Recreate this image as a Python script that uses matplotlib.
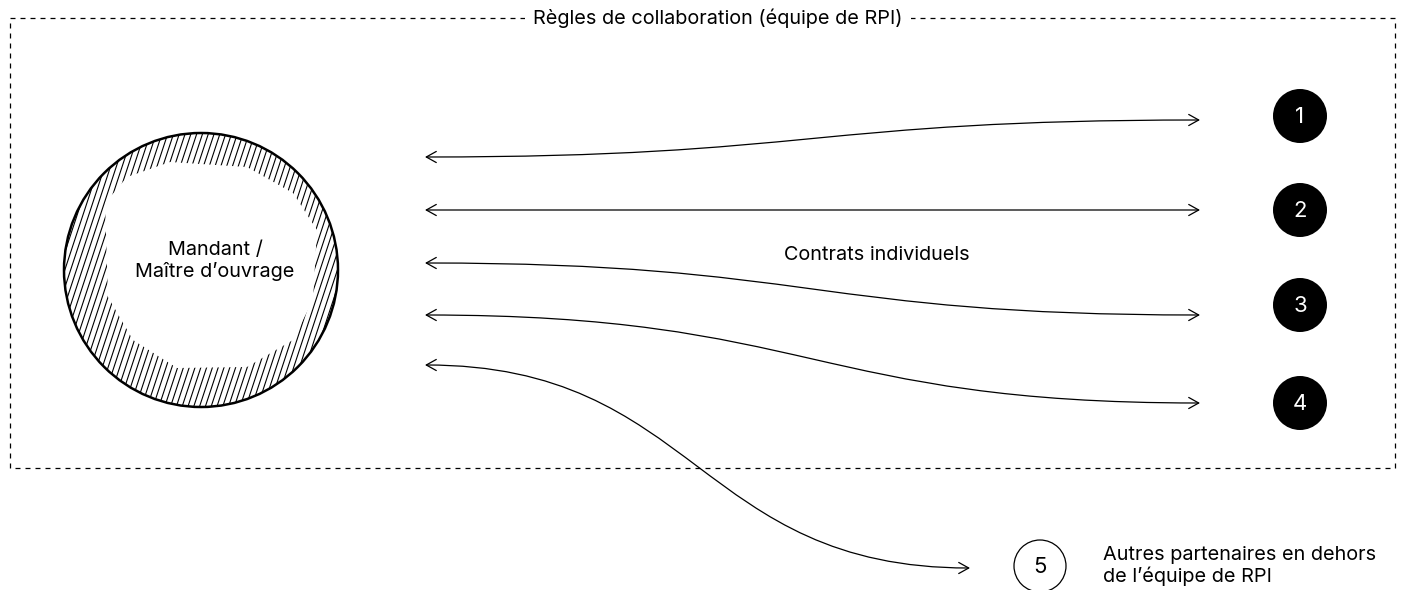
import numpy as np
import matplotlib
matplotlib.use('Agg')
import matplotlib.pyplot as plt
from matplotlib.patches import Circle, FancyArrowPatch, Rectangle, PathPatch
from matplotlib.path import Path

plt.rcParams['font.family'] = ['Inter', 'DejaVu Sans']

# ==================== 数据 ====================
title = 'Règles de collaboration (équipe de RPI)'
center_label = 'Mandant /\nMaître d\u2019ouvrage'
middle_label = 'Contrats individuels'
outside_label = 'Autres partenaires en dehors\nde l\u2019équipe de RPI'

partner_ids = ['1', '2', '3', '4']
partner_y = [116, 210, 305, 403]

# arrows: (x_left, y_left, x_right, y_right)
arrow_left_x = [425, 425, 425, 425, 425]
arrow_left_y = [157, 210, 263, 315, 365]
arrow_right_x = [1200, 1200, 1200, 1200, 970]
arrow_right_y = [120, 210, 315, 403, 568]

# inner white shape of the hatched ring (pixel coords)
inner_x = [105, 127, 170, 247, 293, 317, 313, 293, 247, 177, 133, 108]
inner_y = [203, 177, 162, 167, 193, 230, 300, 340, 367, 368, 340, 297]

FS = 14.3

W, H = 1405, 590
fig = plt.figure(figsize=(W / 100, H / 100), dpi=100)
ax = fig.add_axes([0, 0, 1, 1])
ax.set_xlim(0, W)
ax.set_ylim(H, 0)
ax.axis('off')

LW = 0.9

# dashed frame
ax.add_patch(Rectangle((10, 18), 1385, 450, fill=False, lw=LW,
                       ls=(0, (4, 4)), ec='black'))
ax.text(718, 18, title, ha='center', va='center', fontsize=FS,
        bbox=dict(fc='white', ec='none', pad=6))

# hatched ring
cx, cy, r = 201, 270, 137
ring_outer = Path.circle((cx, cy), r)
inner = np.column_stack([inner_x, inner_y])
inner = np.vstack([inner[::-1], inner[-1:]])
verts = np.vstack([ring_outer.vertices, inner])
codes = np.concatenate([ring_outer.codes,
                        [Path.MOVETO] + [Path.LINETO] * (len(inner) - 2) + [Path.CLOSEPOLY]])
ring_path = Path(verts, codes)
clip = PathPatch(ring_path, fc='none', ec='none', transform=ax.transData)
ax.add_patch(clip)
slope = 0.33
for x0 in np.arange(cx - r - 150, cx + r + 150, 5.8):
    ys = np.array([cy - r - 5, cy + r + 5])
    xs = x0 - (ys - cy) * slope
    ln, = ax.plot(xs, ys, color='black', lw=0.8, solid_capstyle='butt')
    ln.set_clip_path(clip)
ax.add_patch(Circle((cx, cy), r, fill=False, lw=1.8, ec='black'))
ax.text(215, 261, center_label, ha='center', va='center', fontsize=FS,
        linespacing=1.2)

# arrows
for x0, y0, x1, y1 in zip(arrow_left_x, arrow_left_y, arrow_right_x, arrow_right_y):
    k = 0.5 * (x1 - x0)
    p = Path([(x0, y0), (x0 + k, y0), (x1 - k, y1), (x1, y1)],
             [Path.MOVETO, Path.CURVE4, Path.CURVE4, Path.CURVE4])
    ax.add_patch(FancyArrowPatch(path=p, arrowstyle='<->,head_length=0.45,head_width=0.25',
                                 mutation_scale=16, lw=LW, color='black'))

ax.text(877, 255, middle_label, ha='center', va='center', fontsize=FS)

# partner circles
for pid, py in zip(partner_ids, partner_y):
    ax.add_patch(Circle((1300, py), 27, fc='black', ec='none'))
    ax.text(1300, py + 1, pid, ha='center', va='center', fontsize=16, color='white')

ax.add_patch(Circle((1040, 566), 26, fc='white', ec='black', lw=LW))
ax.text(1040, 567, '5', ha='center', va='center', fontsize=16)
ax.text(1103, 566, outside_label, ha='left', va='center', fontsize=FS,
        linespacing=1.1)

fig.savefig('out.png', dpi=100)
